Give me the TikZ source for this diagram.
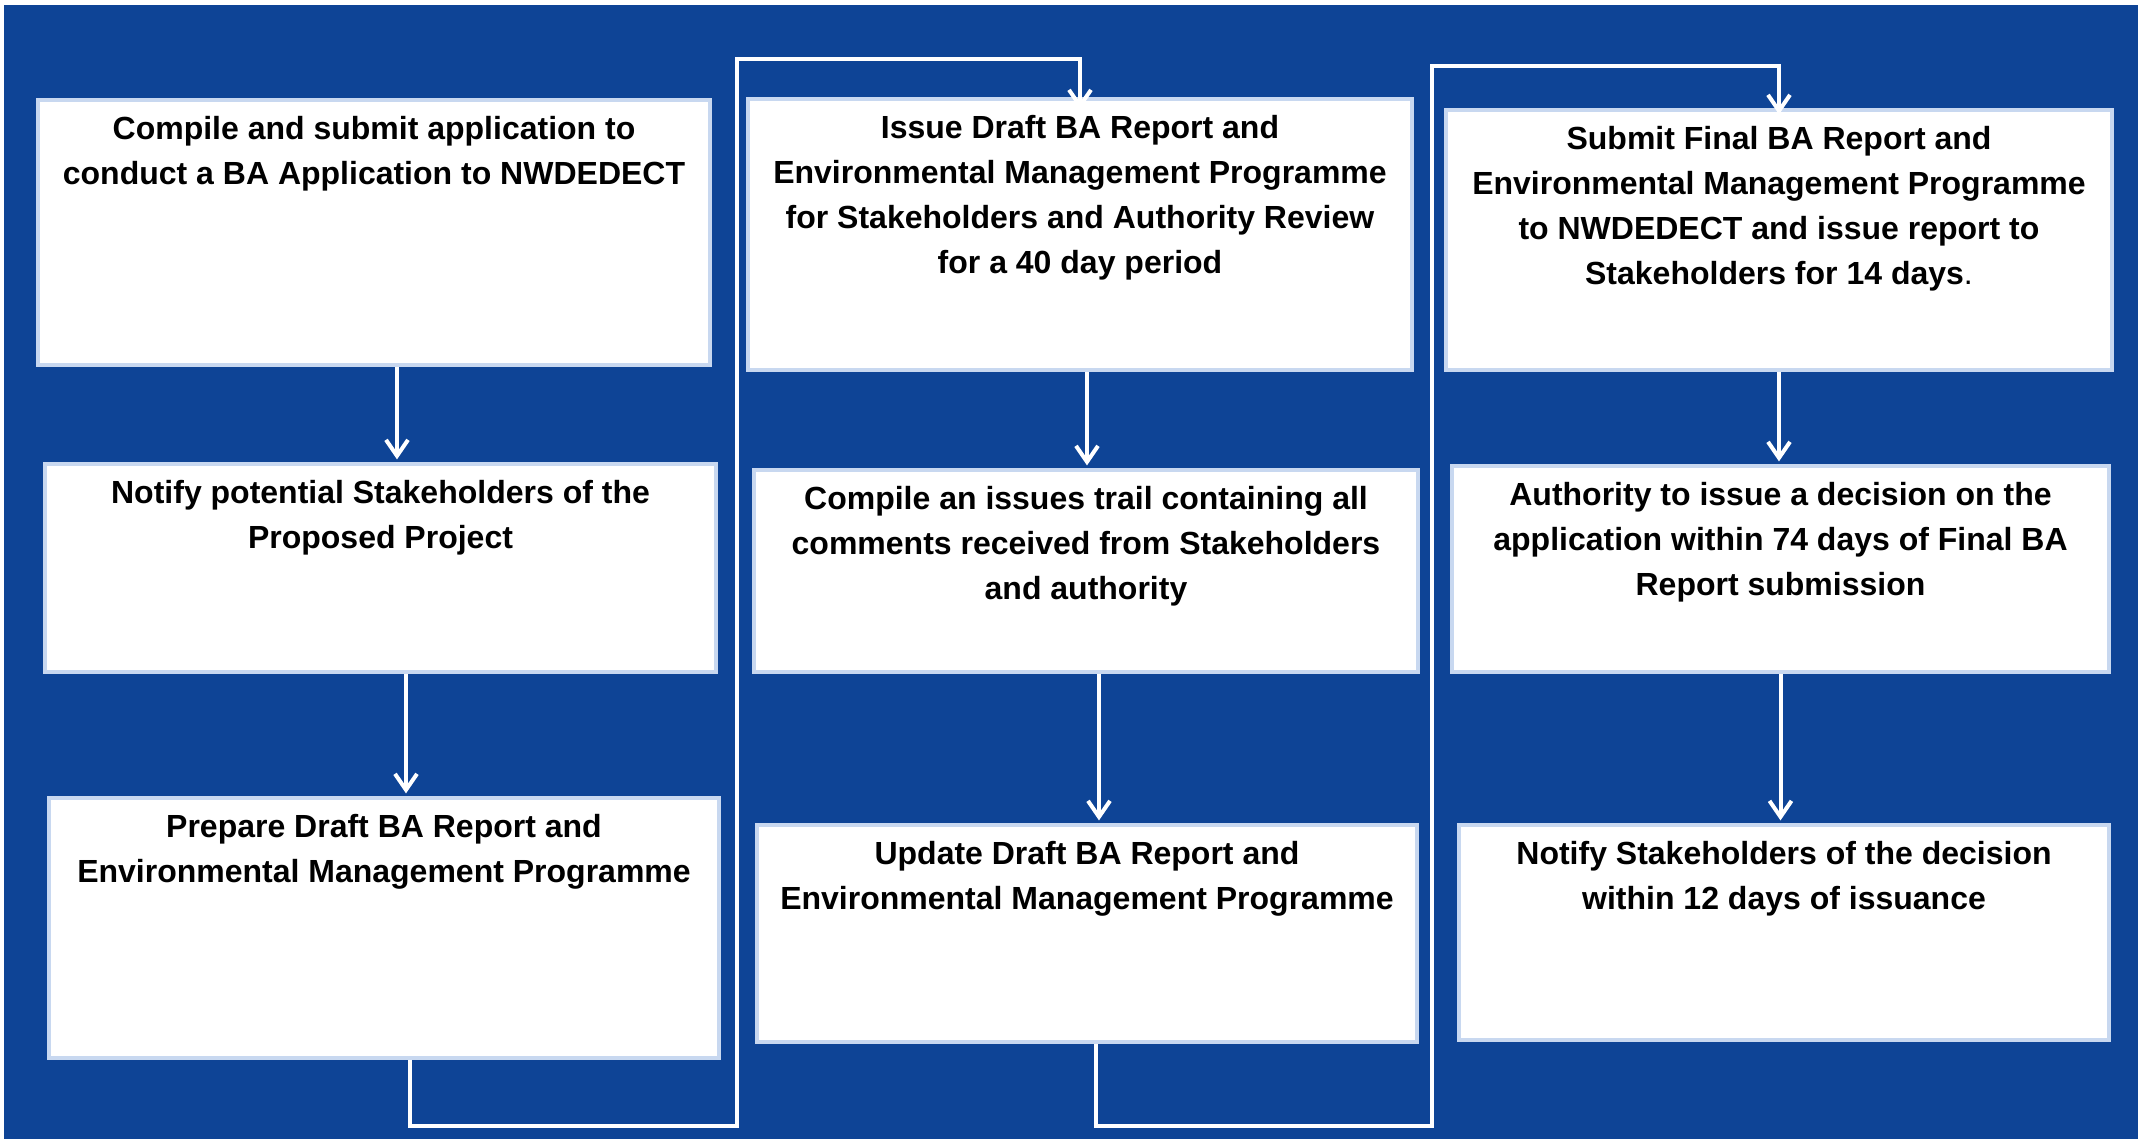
\documentclass[tikz,border=0pt]{standalone}
\usepackage{fontspec}
\setmainfont{Liberation Sans}
\usetikzlibrary{arrows.meta, positioning, fit}
\definecolor{navy}{HTML}{0E4496}
\definecolor{paleedge}{HTML}{C8D8F0}

\begin{document}
\begin{tikzpicture}[x=0.5pt, y=-0.5pt,
  stepbox/.style={rectangle, draw=paleedge, line width=1.6pt, fill=white, inner sep=0pt},
  steptext/.style={align=center, anchor=north, inner sep=0pt, text=black,
    font=\fontsize{16}{22.5}\selectfont\bfseries},
  flow/.style={draw=white, line width=2pt, -{Straight Barb[length=8pt, width=11pt]}, shorten >=1.5pt}]
  \useasboundingbox (0,0) rectangle (2138,1139);
  \fill[navy] (4,5) rectangle (2138,1139);

  \node[stepbox, fit={(38,100) (710,365)}] (a) {};
  \node[stepbox, fit={(45,464) (716,672)}] (b) {};
  \node[stepbox, fit={(49,798) (719,1058)}] (c) {};
  \node[stepbox, fit={(748,99) (1412,370)}] (d) {};
  \node[stepbox, fit={(754,470) (1418,672)}] (e) {};
  \node[stepbox, fit={(757,825) (1417,1042)}] (f) {};
  \node[stepbox, fit={(1446,110) (2112,370)}] (g) {};
  \node[stepbox, fit={(1452,466) (2109,672)}] (h) {};
  \node[stepbox, fit={(1459,825) (2109,1040)}] (i) {};

  \node[steptext, below=9pt of a.north] (a-txt) {Compile and submit application to\\conduct a BA Application to NWDEDECT};
  \node[steptext, below=9pt of b.north] (b-txt) {Notify potential Stakeholders of the\\Proposed Project};
  \node[steptext, below=9pt of c.north] (c-txt) {Prepare Draft BA Report and\\Environmental Management Programme};
  \node[steptext, below=9pt of d.north] (d-txt) {Issue Draft BA Report and\\Environmental Management Programme\\for Stakeholders and Authority Review\\for a 40 day period};
  \node[steptext, below=9pt of e.north] (e-txt) {Compile an issues trail containing all\\comments received from Stakeholders\\and authority};
  \node[steptext, below=9pt of f.north] (f-txt) {Update Draft BA Report and\\Environmental Management Programme};
  \node[steptext, below=9pt of g.north] (g-txt) {Submit Final BA Report and\\Environmental Management Programme\\to NWDEDECT and issue report to\\Stakeholders for 14 days{\mdseries.}};
  \node[steptext, below=9pt of h.north] (h-txt) {Authority to issue a decision on the\\application within 74 days of Final BA\\Report submission};
  \node[steptext, below=9pt of i.north] (i-txt) {Notify Stakeholders of the decision\\within 12 days of issuance};

  \coordinate (cd-low) at (737,1126);
  \coordinate (cd-high) at (737,59);
  \coordinate (fg-low) at (1432,1126);
  \coordinate (fg-high) at (1432,66);

  \draw[flow] ([xshift=11.5pt]a.south) -- ([xshift=11.5pt]a.south |- b.north);
  \draw[flow] ([xshift=12.75pt]b.south) -- ([xshift=12.75pt]b.south |- c.north);
  \draw[flow, shorten >=-6pt] ([xshift=13pt]c.south) |- (cd-low) -- (cd-high) -| (d.north);
  \draw[flow] ([xshift=3.5pt]d.south) -- ([xshift=3.5pt]d.south |- e.north);
  \draw[flow] ([xshift=6.5pt]e.south) -- ([xshift=6.5pt]e.south |- f.north);
  \draw[flow, shorten >=-3pt] ([xshift=4.5pt]f.south) |- (fg-low) -- (fg-high) -| (g.north);
  \draw[flow] (g.south) -- (g.south |- h.north);
  \draw[flow] (h.south) -- (h.south |- i.north);
\end{tikzpicture}
\end{document}
